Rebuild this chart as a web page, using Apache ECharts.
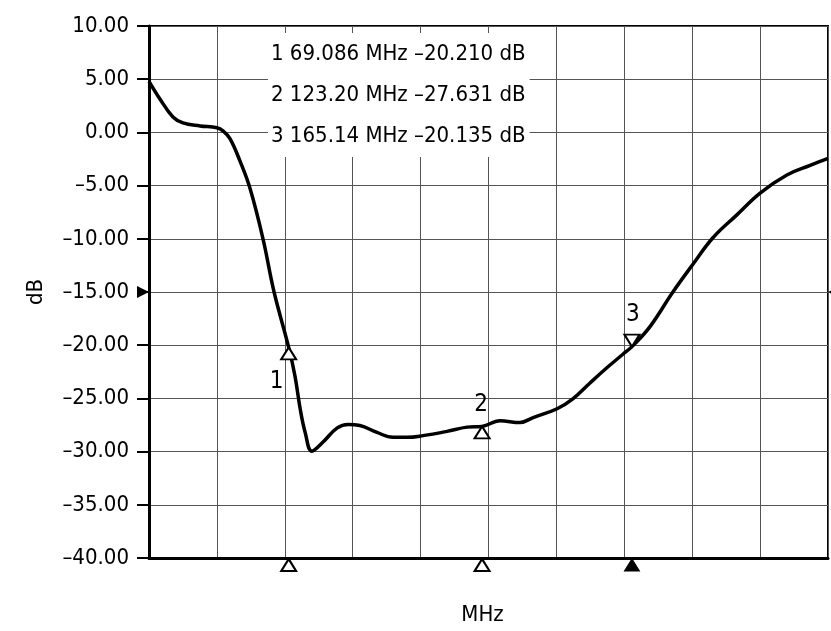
<!DOCTYPE html>
<html>
<head>
<meta charset="utf-8">
<script src="https://cdn.jsdelivr.net/npm/echarts@6/dist/echarts.min.js"></script>
<style>
    html, body { margin: 0; padding: 0; background: #fff; }
    #chart { width: 831px; height: 631px; }
</style>
</head>
<body>
<div id="chart"></div>
<script>
// 扫频数据 (MHz / dB)
const freqMHz = [30, 33.1, 36.7, 39.5, 44.3, 49, 50.7, 52.7, 55.5, 58.3, 61.9, 65, 69.086, 70.85, 72.3,
    73.7, 75.6, 78.7, 82.6, 85.7, 89, 93.8, 98.3, 102.2, 106.7, 113.4, 119, 123.2, 128.2, 133.8,
    137.5, 144.2, 148.6, 153.4, 158.2, 162.6, 165.14, 170.2, 176.6, 182.2, 187.8, 194.5, 201, 208.5,
    215, 220];
const gainDb = [4.8, 3.12, 1.45, 0.89, 0.61, 0.43, 0.15, -0.6, -2.73, -5.3, -10, -15, -20.21, -22.9, -25.97,
    -28.2, -29.96, -29.1, -27.8, -27.45, -27.55, -28.2, -28.66, -28.66, -28.5, -28.1, -27.7, -27.631, -27.1, -27.27,
    -26.8, -25.97, -25.04, -23.55, -22.1, -20.85, -20.135, -18.25, -15, -12.4, -9.9, -7.75, -5.7, -4.0,
    -3.1, -2.45];

// 标记点
const markerNames = ['1', '2', '3'];
const markerFreq = [69.086, 123.2, 165.14];
const markerDb = [-20.21, -27.631, -20.135];
const activeMarker = 2;

// 坐标轴
const freqStart = 30;
const freqStop = 220;
const xDivisions = 10;
const yMin = -40;
const yMax = 10;
const yStep = 5;
const refLevel = -15;

const FONT = 'Liberation Sans Narrow, DejaVu Sans Condensed, sans-serif';
const FONT_SIZE = 22;
const dash = (s) => s.replace('-', '\u2013');

const markerText = markerNames.map((n, i) =>
    `${n} ${markerFreq[i].toPrecision(5)} MHz ${dash(markerDb[i].toFixed(3))} dB`
).join('\n');

const markPoints = [];
markerNames.forEach((n, i) => {
    const down = i === activeMarker;
    // 曲线上的标记三角
    markPoints.push({
        coord: [markerFreq[i], markerDb[i]],
        symbol: 'triangle',
        symbolSize: [15, 12],
        symbolRotate: down ? 180 : 0,
        symbolOffset: [0, down ? -6 : 6],
        itemStyle: { color: '#fff', borderColor: '#000', borderWidth: 2 },
        label: { show: false }
    });
    // 标记编号
    markPoints.push({
        coord: [markerFreq[i], markerDb[i]],
        symbol: 'circle',
        symbolSize: 0,
        label: {
            show: true,
            formatter: n,
            fontFamily: FONT,
            fontSize: FONT_SIZE + 2,
            color: '#000',
            offset: i === 0 ? [-12, 34] : (down ? [1, -32] : [-1, -22])
        }
    });
    // 底部标记
    markPoints.push({
        coord: [markerFreq[i], yMin],
        symbol: 'triangle',
        symbolSize: [15, 12],
        symbolOffset: [0, 7],
        itemStyle: down
            ? { color: '#000', borderColor: '#000', borderWidth: 1 }
            : { color: '#fff', borderColor: '#000', borderWidth: 2 },
        label: { show: false }
    });
});
// 参考电平指示
markPoints.push({
    coord: [freqStart, refLevel],
    symbol: 'triangle',
    symbolSize: [12, 12],
    symbolRotate: -90,
    symbolOffset: [-6, 0],
    itemStyle: { color: '#000' },
    label: { show: false }
});
markPoints.push({
    coord: [freqStop, refLevel],
    symbol: 'triangle',
    symbolSize: [12, 12],
    symbolRotate: 90,
    symbolOffset: [6, 0],
    itemStyle: { color: '#000' },
    label: { show: false }
});

const myChart = echarts.init(document.getElementById('chart'));
myChart.setOption({
    backgroundColor: '#fff',
    animation: false,
    title: {
        text: markerText,
        left: 268,
        top: 33,
        backgroundColor: '#fff',
        padding: [1, 4, 0, 3],
        textStyle: {
            fontFamily: FONT,
            fontSize: FONT_SIZE,
            fontWeight: 'normal',
            color: '#000',
            lineHeight: 41
        }
    },
    grid: {
        left: 149,
        right: 3,
        top: 26,
        bottom: 67,
        show: true,
        borderColor: '#000',
        borderWidth: 2
    },
    xAxis: [
        {
            type: 'value',
            min: freqStart,
            max: freqStop,
            name: 'MHz',
            nameLocation: 'middle',
            nameGap: 46,
            nameTextStyle: { fontFamily: FONT, fontSize: FONT_SIZE, color: '#000', padding: [0, 12, 0, 0] },
            axisLine: { show: true, onZero: false, lineStyle: { color: '#000', width: 3 } },
            axisTick: { show: false },
            axisLabel: { show: false },
            splitLine: { show: false }
        },
        {
            // 仅用于绘制竖向网格
            type: 'value',
            min: 0,
            max: xDivisions,
            interval: 1,
            position: 'bottom',
            axisLine: { show: false },
            axisTick: { show: false },
            axisLabel: { show: false },
            splitLine: { show: true, lineStyle: { color: '#555', width: 1 } }
        }
    ],
    yAxis: {
        type: 'value',
        min: yMin,
        max: yMax,
        interval: yStep,
        name: 'dB',
        nameLocation: 'middle',
        nameRotate: 90,
        nameGap: 102,
        nameTextStyle: { fontFamily: FONT, fontSize: FONT_SIZE, color: '#000' },
        axisLine: { show: true, lineStyle: { color: '#000', width: 3 } },
        axisTick: { show: true, inside: false, length: 12, lineStyle: { color: '#000', width: 2 } },
        axisLabel: {
            margin: 20,
            fontFamily: FONT,
            fontSize: FONT_SIZE,
            color: '#000',
            formatter: (v) => dash(v.toFixed(2))
        },
        splitLine: { show: true, lineStyle: { color: '#555', width: 1 } }
    },
    series: [
        {
            type: 'line',
            xAxisIndex: 0,
            data: freqMHz.map((f, i) => [f, gainDb[i]]),
            smooth: 0.4,
            symbol: 'none',
            lineStyle: { color: '#000', width: 3.5 },
            markPoint: { silent: true, data: markPoints }
        }
    ]
});
</script>
</body>
</html>
